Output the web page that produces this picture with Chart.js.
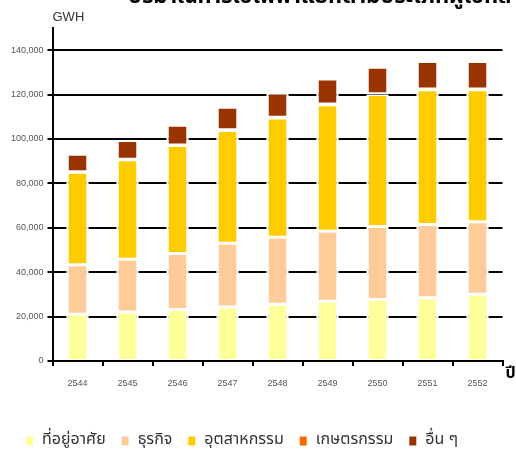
<!DOCTYPE html>
<html lang="th">
<head>
<meta charset="utf-8">
<script src="https://cdn.jsdelivr.net/npm/chart.js@4.4.1/dist/chart.umd.min.js"></script>
<style>
  html, body { margin: 0; padding: 0; background: #fff; }
  #wrap { width: 516px; height: 455px; }
</style>
</head>
<body>
<div id="wrap"><canvas id="usageChart" width="516" height="455"></canvas></div>
<script>
// ปริมาณการใช้ไฟฟ้า (GWH) แยกตามประเภทผู้ใช้ พ.ศ. 2544-2552
const years = ['2544', '2545', '2546', '2547', '2548', '2549', '2550', '2551', '2552'];
const residential = [21060, 22090, 23220, 24350, 25570, 26920, 27730, 28500, 30120];
const business = [22310, 23770, 25250, 28650, 30120, 31560, 32910, 32960, 32550];
const industrial = [41620, 44770, 48560, 50840, 53750, 56950, 59430, 60730, 59520];
const agriculture = [300, 300, 310, 320, 330, 330, 340, 350, 350];
const others = [7810, 8360, 8840, 10140, 10850, 11300, 11920, 12360, 12360];
const yTickValues = [0, 20000, 40000, 60000, 80000, 100000, 120000, 140000];

const axisFont = '"Liberation Sans", Arial, sans-serif';
const thaiFont = '"Noto Sans Thai", "Noto Sans", "DejaVu Sans", sans-serif';

// white edges round every block so the gridlines break around the bars
function series(label, values, color, bottomEdge) {
  return {
    label: label,
    data: values,
    backgroundColor: color,
    borderColor: '#ffffff',
    borderWidth: { top: 1.5, bottom: bottomEdge, left: 2.5, right: 2.5 },
    borderSkipped: false,
    barPercentage: 0.45,
    categoryPercentage: 1
  };
}

// GWH, the heading along the top edge and the year label at the axis end
const extraText = {
  id: 'extraText',
  afterDraw(chart) {
    const { ctx, chartArea } = chart;
    ctx.save();
    ctx.textAlign = 'left';
    ctx.textBaseline = 'middle';
    ctx.fillStyle = '#333';
    ctx.font = '13px ' + axisFont;
    ctx.fillText('GWH', chartArea.left, 17);

    ctx.fillStyle = '#000';
    ctx.font = 'bold 16px ' + thaiFont;
    ctx.fillText('ปี', chartArea.right + 3, chartArea.bottom + 14);

    ctx.textBaseline = 'alphabetic';
    ctx.font = 'bold 22px ' + thaiFont;
    ctx.fillText('ปริมาณการใช้ไฟฟ้าแยกตามประเภทผู้ใช้ที่สำคัญ', 128, 2.5);
    ctx.restore();
  }
};

const config = {
  type: 'bar',
  data: {
    labels: years,
    datasets: [
      series('ที่อยู่อาศัย', residential, '#FFFF99', 1),
      series('ธุรกิจ', business, '#FFCC99', 1.5),
      series('อุตสาหกรรม', industrial, '#FFCC00', 1.5),
      series('เกษตรกรรม', agriculture, '#FF6600', 1.5),
      series('อื่น ๆ', others, '#993300', 1.5)
    ]
  },
  options: {
    responsive: false,
    animation: false,
    layout: {
      padding: { top: 28, left: 10, right: 13.5, bottom: -4 }
    },
    plugins: {
      legend: {
        position: 'bottom',
        align: 'start',
        labels: {
          boxWidth: 9,
          boxHeight: 11,
          padding: 15,
          color: '#333',
          font: { family: thaiFont, size: 16 }
        }
      },
      tooltip: { enabled: false }
    },
    scales: {
      x: {
        stacked: true,
        offset: true,
        grid: {
          offset: true,
          drawOnChartArea: false,
          drawTicks: true,
          tickLength: 5,
          color: '#000',
          lineWidth: 2
        },
        border: { color: '#000', width: 2 },
        ticks: {
          color: '#555',
          padding: 12,
          maxRotation: 0,
          font: { family: axisFont, size: 9 }
        },
        afterFit(scale) {
          scale.height = 57;
        }
      },
      y: {
        stacked: true,
        min: 0,
        max: 150000,
        grid: {
          color: '#000',
          lineWidth: 2,
          drawTicks: true,
          tickLength: 5
        },
        border: { color: '#000', width: 2 },
        ticks: {
          includeBounds: false,
          color: '#555',
          padding: 4,
          font: { family: axisFont, size: 9 },
          callback: (value) => value.toLocaleString('en-US')
        },
        afterBuildTicks(scale) {
          scale.ticks = yTickValues.map(v => ({ value: v }));
        },
        afterFit(scale) {
          scale.width = 42.5;
        }
      }
    }
  },
  plugins: [extraText]
};

const usageChart = new Chart(document.getElementById('usageChart'), config);
</script>
</body>
</html>
